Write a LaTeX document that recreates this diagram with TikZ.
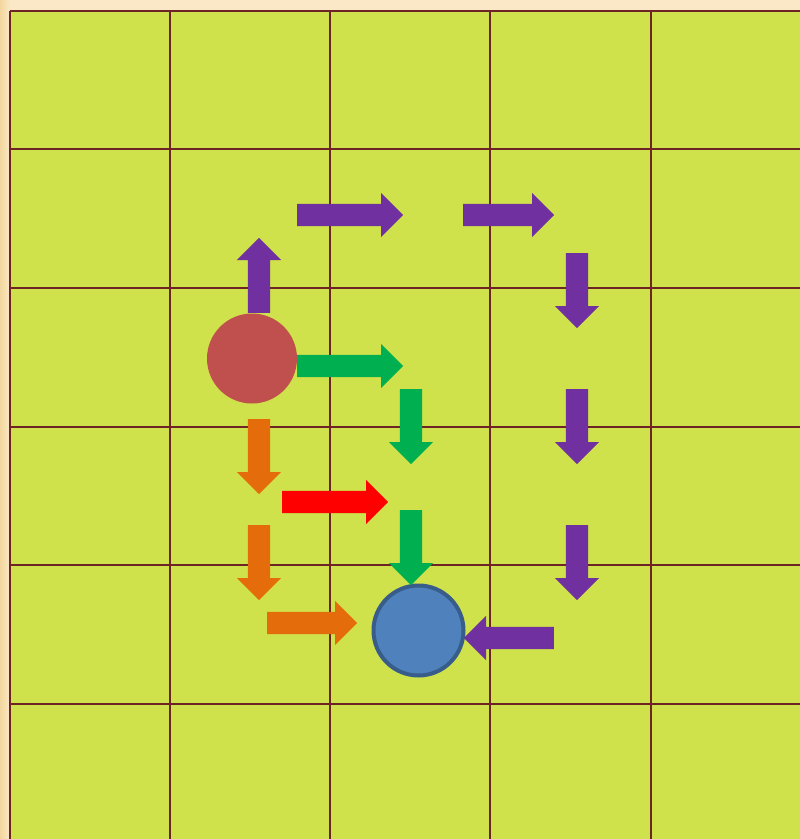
\documentclass[tikz,border=0pt]{standalone}
\usetikzlibrary{shapes.arrows}
\definecolor{bg}{HTML}{FBE8C6}
\definecolor{bgdark}{HTML}{F2D69E}
\definecolor{board}{HTML}{CFE24B}
\definecolor{gridc}{HTML}{6E2424}
\definecolor{purp}{HTML}{7030A0}
\definecolor{grn}{HTML}{00B050}
\definecolor{org}{HTML}{E46C0A}
\definecolor{redc}{HTML}{C0504D}
\definecolor{bluef}{HTML}{4F81BD}
\definecolor{blued}{HTML}{385D8A}
\tikzset{
  blk/.style={single arrow, draw=none, inner xsep=0pt, inner ysep=11pt,
    single arrow head extend=11pt, single arrow tip angle=90,
    single arrow head indent=0pt, minimum height=#1, anchor=tail},
  gridline/.style={gridc, line width=2.8pt},
  up/.style={rotate=90}, down/.style={rotate=-90}, left/.style={rotate=180}
}
\begin{document}
\begin{tikzpicture}[x=1pt,y=-1pt]
\useasboundingbox (0,0) rectangle (800,839);
\fill[bg] (0,0) rectangle (800,839);
\shade[left color=bgdark, right color=bg] (0,0) rectangle (10,839);
\fill[board] (10,11) rectangle (800,839);
\foreach \x in {10,170,330,490,651} \draw[gridline] (\x,11) -- (\x,839);
\foreach \y in {11,149,288,427,565,704} \draw[gridline] (10,\y) -- (800,\y);
% circles
\node[circle, fill=redc, minimum size=90pt, inner sep=0pt] (start) at (252,358.5) {};
\node[circle, fill=bluef, draw=blued, line width=4pt, minimum size=90pt, inner sep=0pt] (goal) at (418.5,630.5) {};
% purple path
\node[blk=75pt, fill=purp, up] (p1) at (259,313) {};
\node[blk=106pt, fill=purp] (p2) at (297,215) {};
\node[blk=91pt, fill=purp] (p3) at (463,215) {};
\node[blk=75pt, fill=purp, down] (p4) at (577,253) {};
\node[blk=75pt, fill=purp, down] (p5) at (577,389) {};
\node[blk=75pt, fill=purp, down] (p6) at (577,525) {};
\node[blk=90pt, fill=purp, left] (p7) at (554,638) {};
% green path
\node[blk=106pt, fill=grn] (g1) at (297,366) {};
\node[blk=75pt, fill=grn, down] (g2) at (411,389) {};
\node[blk=75pt, fill=grn, down] (g3) at (411,510) {};
% orange path
\node[blk=75pt, fill=org, down] (o1) at (259,419) {};
\node[blk=75pt, fill=org, down] (o2) at (259,525) {};
\node[blk=90pt, fill=org] (o3) at (267,623) {};
% red arrow
\node[blk=106pt, fill=red] (r1) at (282,502) {};
\end{tikzpicture}
\end{document}
